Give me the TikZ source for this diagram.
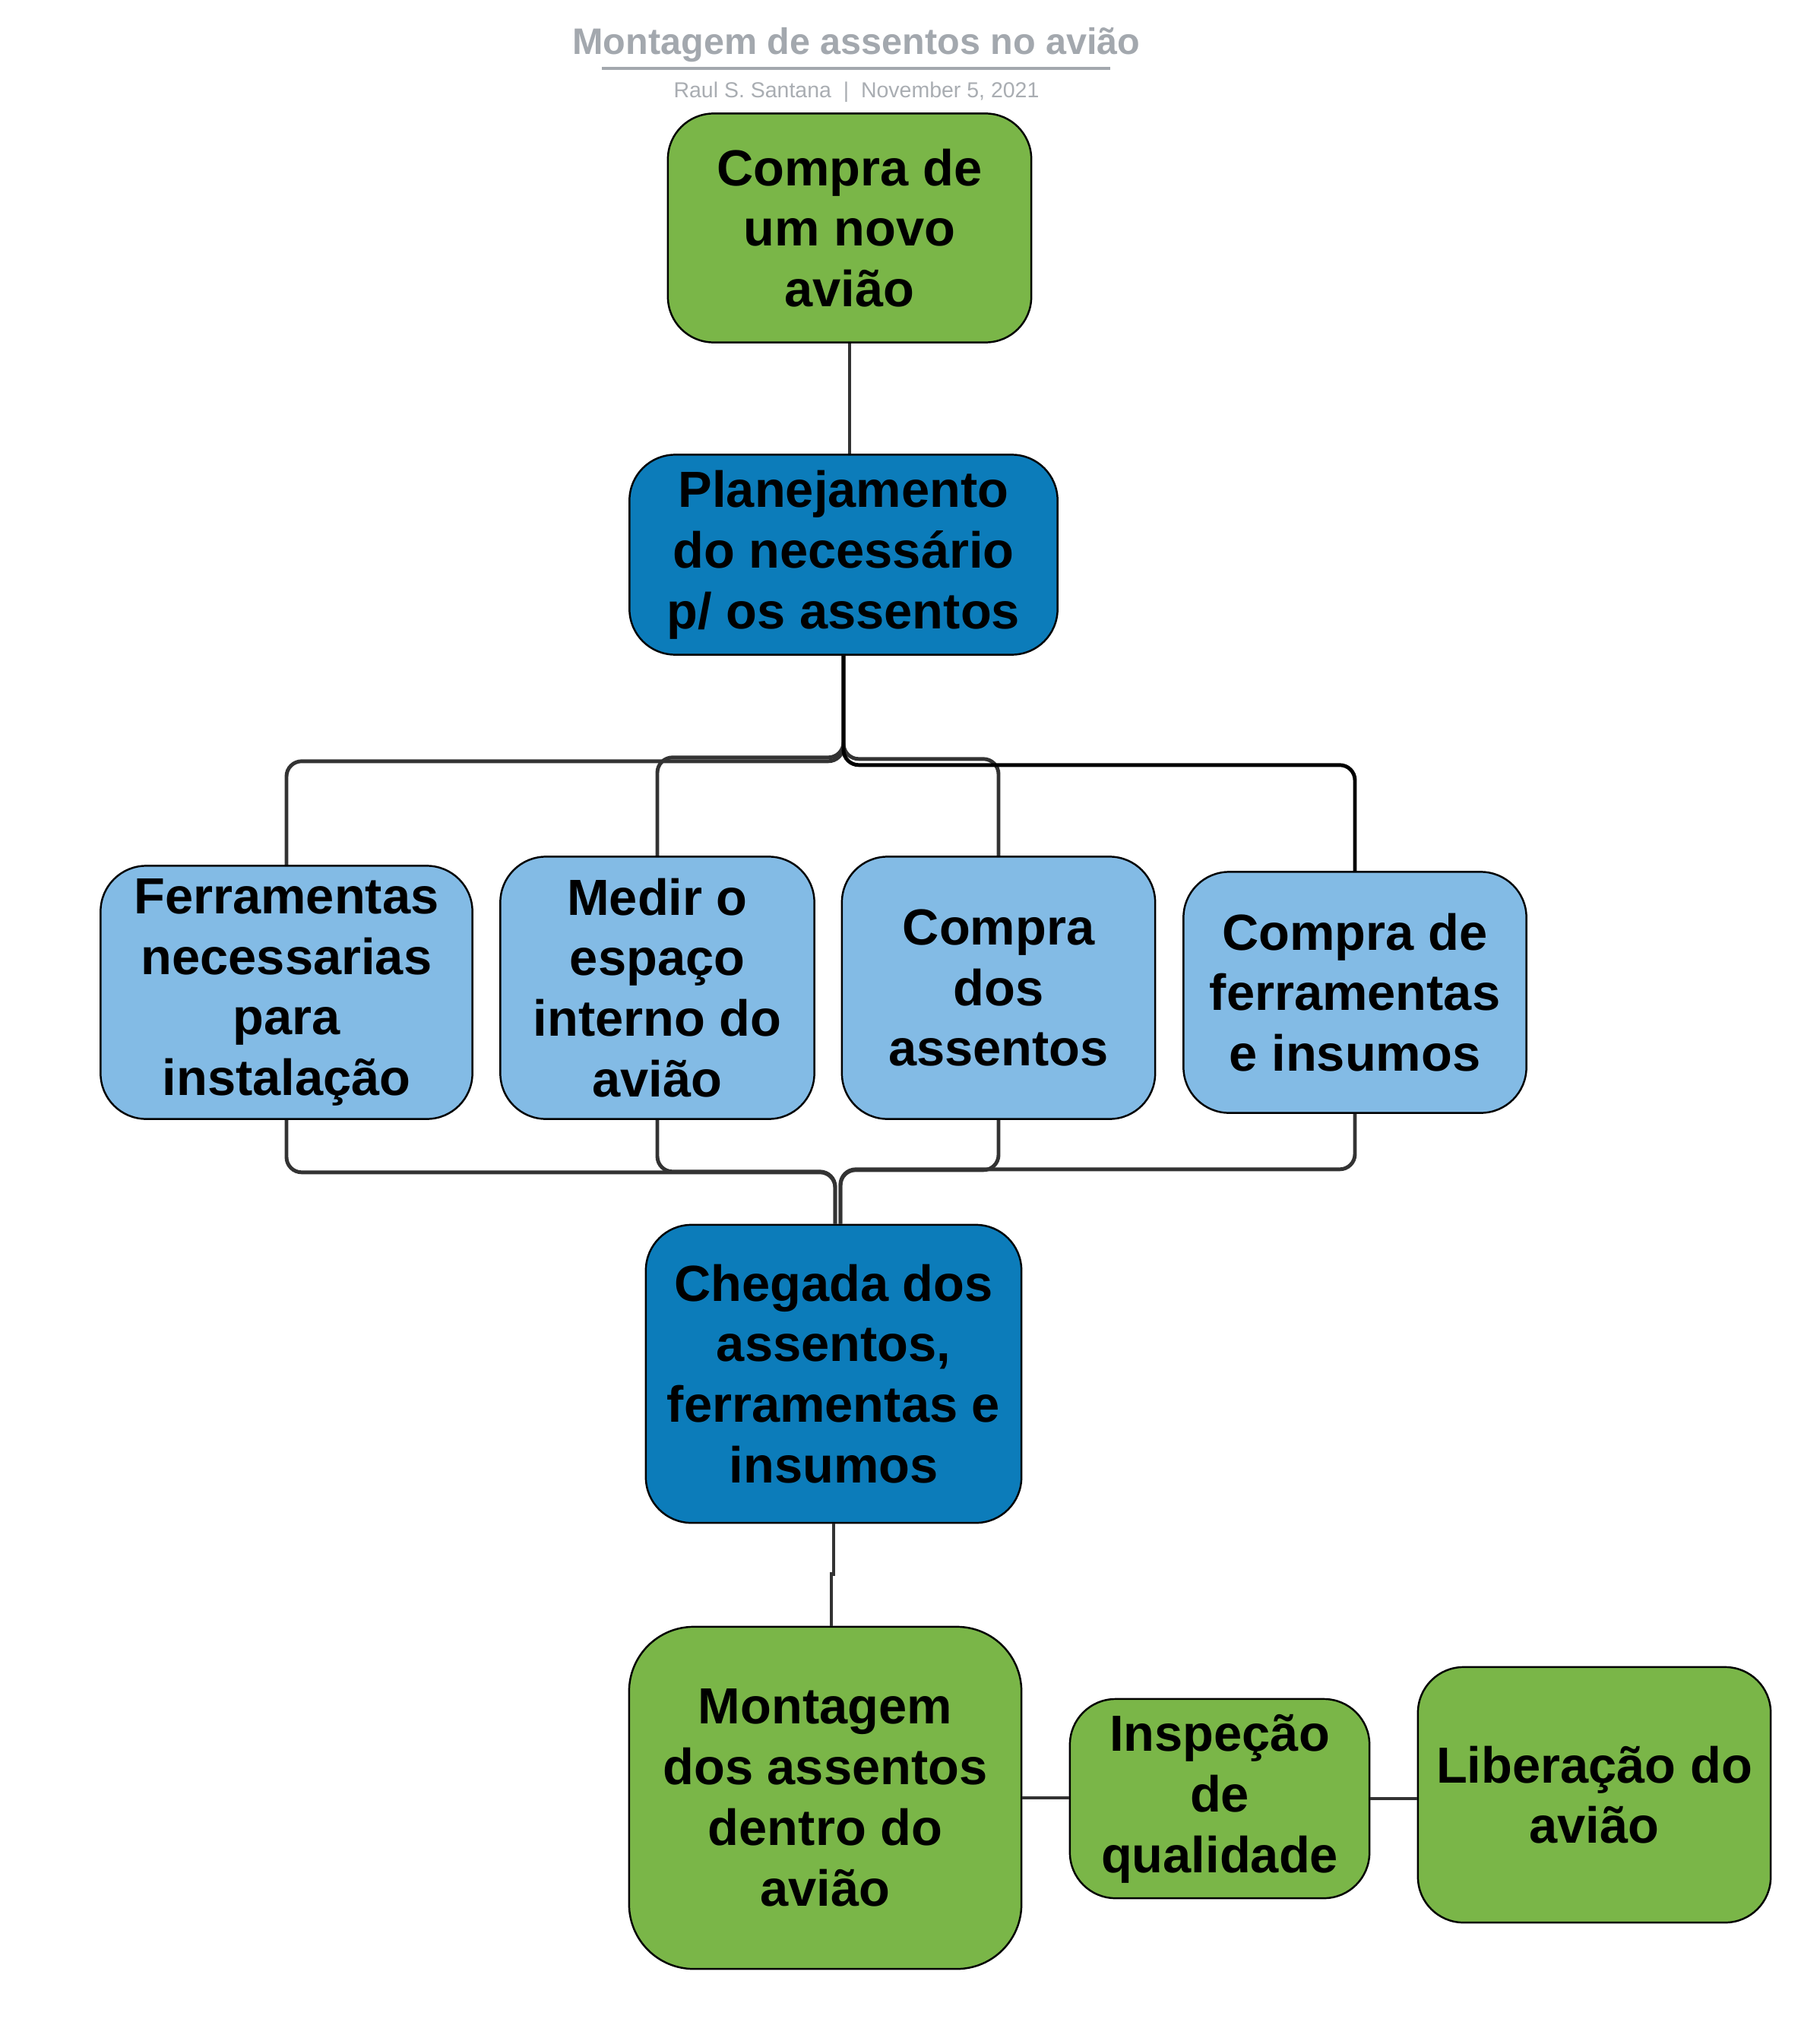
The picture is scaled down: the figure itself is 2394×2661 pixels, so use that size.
\documentclass[tikz,border=0pt]{standalone}
\usepackage{fontspec}
\setmainfont{Liberation Sans}
\usepackage{tikz}

\definecolor{boxgreen}{HTML}{7AB648}
\definecolor{boxblue}{HTML}{0C7CBA}
\definecolor{boxlight}{HTML}{83BBE5}
\definecolor{linkgray}{HTML}{333333}
\definecolor{titlegray}{HTML}{A3A8AE}
\definecolor{subgray}{HTML}{A9ADB2}

\begin{document}
\begin{tikzpicture}[x=0.01cm, y=-0.01cm]
		\tikzset{box/.style={shape = rectangle, rounded corners = 0.6cm, draw, line width = 0.7pt, align = center, inner sep = 0pt, font = \fontsize{19}{22.7}\selectfont\bfseries}}
		\tikzset{link/.style={draw = linkgray, line width = 1.4pt, rounded corners = 0.2cm}}
		\useasboundingbox (0,0) rectangle (2394,2661);
		%title
		\node[font = \fontsize{13.8}{16}\selectfont\bfseries, text = titlegray] (title) at (1127, 59) {Montagem de assentos no avião};
		\draw[titlegray, line width = 1.1pt] (792, 90) -- (1461, 90);
		\node[font = \fontsize{8.1}{10}\selectfont, text = subgray] (byline) at (1127, 121) {Raul S. Santana \ | \ November 5, 2021};
		%boxes
		\node[box, fill = boxgreen, minimum width = 4.78cm, minimum height = 3.01cm] (compra) at (1118, 300) {Compra de\\um novo\\avião};
		\node[box, fill = boxblue, minimum width = 5.63cm, minimum height = 2.63cm] (plan) at (1110, 730) {Planejamento\\do necessário\\p/ os assentos};
		\node[box, fill = boxlight, minimum width = 4.89cm, minimum height = 3.33cm] (ferr) at (377, 1306) {Ferramentas\\necessarias\\para\\instalação};
		\node[box, fill = boxlight, minimum width = 4.13cm, minimum height = 3.45cm] (medir) at (865, 1300) {Medir o\\espaço\\interno do\\avião};
		\node[box, fill = boxlight, minimum width = 4.12cm, minimum height = 3.45cm] (assentos) at (1314, 1300) {Compra\\dos\\assentos};
		\node[box, fill = boxlight, minimum width = 4.51cm, minimum height = 3.17cm] (insumos) at (1783, 1306) {Compra de\\ferramentas\\e insumos};
		\node[box, fill = boxblue, minimum width = 4.94cm, minimum height = 3.92cm] (chegada) at (1097, 1808) {Chegada dos\\assentos,\\ferramentas e\\insumos};
		\node[box, fill = boxgreen, rounded corners = 0.85cm, minimum width = 5.16cm, minimum height = 4.50cm] (montagem) at (1086, 2366) {Montagem\\dos assentos\\dentro do\\avião};
		\node[box, fill = boxgreen, minimum width = 3.94cm, minimum height = 2.62cm] (inspecao) at (1605, 2367) {Inspeção\\de\\qualidade};
		\node[box, fill = boxgreen, minimum width = 4.64cm, minimum height = 3.36cm] (liberacao) at (2098, 2362) {Liberação do\\avião};
		%edges
		\draw[link] (compra.south) -- (compra.south |- plan.north);
		\draw[link] (plan.south) -- ++(0, 139) -| (ferr.north);
		\draw[link] (plan.south) -- ++(0, 134) -| (medir.north);
		\draw[link] (plan.south) -- ++(0, 136) -| (assentos.north);
		\draw[link, draw = black] (plan.south) -- ++(0, 144) -| (insumos.north);
		\draw[link] (ferr.south) -- ++(0, 69) -| ([xshift = 0.02cm]chegada.north);
		\draw[link] (medir.south) -- ++(0, 68) -| ([xshift = 0.02cm]chegada.north);
		\draw[link] (assentos.south) -- ++(0, 66) -| ([xshift = 0.09cm]chegada.north);
		\draw[link] (insumos.south) -- ++(0, 73) -| ([xshift = 0.09cm]chegada.north);
		\draw[link, sharp corners] (chegada.south) -- ++(0, 66) -| ([xshift = 0.08cm]montagem.north);
		\draw[link] (montagem.east) -- (montagem.east -| inspecao.west);
		\draw[link] (inspecao.east) -- (inspecao.east -| liberacao.west);
\end{tikzpicture}
\end{document}
